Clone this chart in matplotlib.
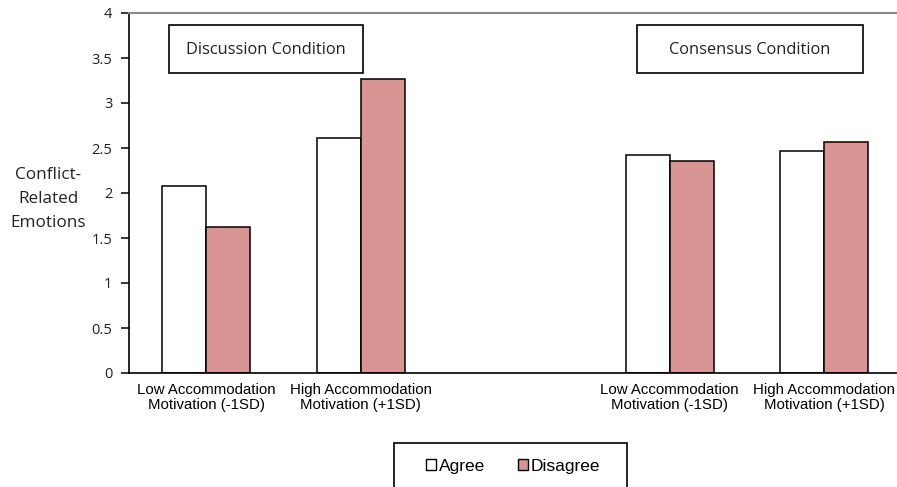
import numpy as np
import matplotlib
matplotlib.use("Agg")
import matplotlib.pyplot as plt
from matplotlib.patches import Rectangle, Patch

# Mean conflict-related emotions by accommodation motivation and condition
categories = ["Low Accommodation\nMotivation (-1SD)",
              "High Accommodation\nMotivation (+1SD)",
              "",
              "Low Accommodation\nMotivation (-1SD)",
              "High Accommodation\nMotivation (+1SD)"]
agree = [2.08, 2.61, np.nan, 2.42, 2.47]
disagree = [1.62, 3.27, np.nan, 2.36, 2.57]
yticks = [0, 0.5, 1, 1.5, 2, 2.5, 3, 3.5, 4]
ytick_labels = ["0", "0.5", "1", "1.5", "2", "2.5", "3", "3.5", "4"]

sans = ["Liberation Sans", "DejaVu Sans"]
cal = ["Open Sans", "DejaVu Sans"]

fig = plt.figure(figsize=(8.97, 4.87), dpi=100)
ax = fig.add_axes([129 / 897, 114 / 487, 772.5 / 897, 360 / 487])

x = np.arange(len(categories))
w = 0.285
ax.bar(x - w / 2, agree, w, color="white", edgecolor="black", linewidth=1.1, label="Agree")
ax.bar(x + w / 2, disagree, w, color="#d99594", edgecolor="black", linewidth=1.1, label="Disagree")

ax.set_xlim(-0.5, 4.5)
ax.set_ylim(0, 4)
ax.set_xticks(x)
ax.set_xticklabels(categories, fontfamily=sans, fontsize=10.8, linespacing=1.15)
ax.tick_params(axis="x", length=0, pad=7)
ax.set_yticks(yticks)
ax.set_yticklabels(ytick_labels, fontfamily=cal, fontsize=10.5, color="#222222")
ax.tick_params(axis="y", length=6, width=1.1, pad=6)

for s in ["left", "bottom"]:
    ax.spines[s].set_linewidth(1.2)
ax.spines["top"].set_color("#888888")
ax.spines["top"].set_linewidth(1.5)
ax.spines["right"].set_visible(False)

# y-axis label
fig.text(48 / 897, 1 - 199 / 487, "Conflict-\nRelated\nEmotions", ha="center", va="center",
         fontfamily=cal, fontsize=12.3, linespacing=1.65, color="#222222")

# condition boxes
for label, (x0, x1) in [("Discussion Condition", (169, 363)), ("Consensus Condition", (637, 863))]:
    fig.patches.append(Rectangle((x0 / 897, 1 - 73 / 487), (x1 - x0) / 897, 48 / 487,
                                 transform=fig.transFigure, facecolor="white",
                                 edgecolor="black", linewidth=1.2))
    fig.text((x0 + x1) / 2 / 897, 1 - 50 / 487, label, ha="center", va="center",
             fontfamily=cal, fontsize=11.8, color="#222222")

# legend
fig.patches.append(Rectangle((394 / 897, -0.05), 233 / 897, 0.05 + 44 / 487,
                             transform=fig.transFigure, facecolor="white",
                             edgecolor="black", linewidth=1.2, clip_on=False))
handles = [Patch(facecolor="white", edgecolor="black", linewidth=1),
           Patch(facecolor="#d99594", edgecolor="black", linewidth=1)]
fig.legend(handles, ["Agree", "Disagree"], loc="center", bbox_to_anchor=(513 / 897, 1 - 466 / 487),
           ncol=2, frameon=False, prop={"family": sans, "size": 12.5},
           handlelength=0.6, handleheight=0.6, handletextpad=0.15, columnspacing=1.9)

fig.savefig("out.png", dpi=100)
